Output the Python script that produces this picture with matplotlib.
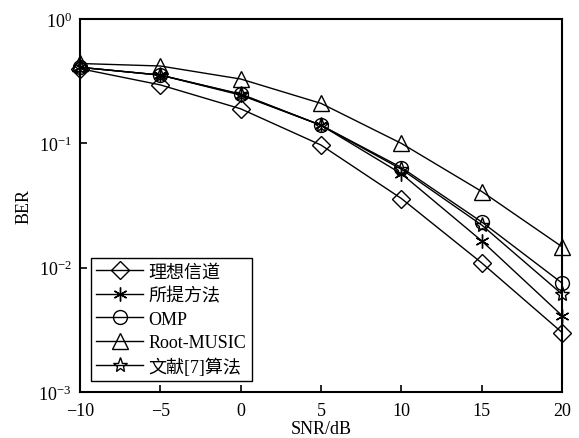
import matplotlib
matplotlib.use("Agg")
import matplotlib.pyplot as plt

plt.rcParams['font.family'] = ['Liberation Serif', 'Noto Sans CJK SC']
plt.rcParams['mathtext.fontset'] = 'stix'

snr = [-10, -5, 0, 5, 10, 15, 20]
ber_ideal = [0.40, 0.296, 0.19, 0.097, 0.036, 0.0109, 0.0030]
ber_proposed = [0.41, 0.355, 0.245, 0.14, 0.057, 0.0164, 0.0041]
ber_omp = [0.41, 0.355, 0.25, 0.14, 0.064, 0.0233, 0.0075]
ber_music = [0.44, 0.42, 0.33, 0.21, 0.10, 0.041, 0.0147]
ber_ref7 = [0.41, 0.355, 0.248, 0.14, 0.062, 0.022, 0.0061]

labels = ['理想信道', '所提方法', 'OMP', 'Root-MUSIC', '文献[7]算法']
markers = ['D', (6, 2, 0), 'o', '^', '*']
sizes = [9, 10, 10, 12, 11]

fig = plt.figure(figsize=(5.79, 4.39), dpi=100)
ax = fig.add_axes([0.138, 0.105, 0.833, 0.849])

for y, lab, m, s in zip([ber_ideal, ber_proposed, ber_omp, ber_music, ber_ref7],
                        labels, markers, sizes):
    ax.semilogy(snr, y, color='black', lw=1.0, marker=m, ms=s,
                mfc='none', mec='black', mew=1.0, label=lab, clip_on=False)

ax.set_xlim(-10, 20)
ax.set_ylim(1e-3, 1)
ax.set_xticks([-10, -5, 0, 5, 10, 15, 20])
ax.set_xticklabels(['\u221210', '\u22125', '0', '5', '10', '15', '20'])
ax.minorticks_off()
ax.tick_params(direction='in', length=5, width=1.2, labelsize=13)
ax.tick_params(axis='x', pad=7)
ax.tick_params(axis='y', pad=6)
for sp in ax.spines.values():
    sp.set_linewidth(1.5)

ax.set_xlabel('SNR/dB', fontsize=13, labelpad=1)
ax.set_ylabel('BER', fontsize=13)

leg = ax.legend(loc='lower left', fontsize=13, fancybox=False, edgecolor='black',
                framealpha=1, borderpad=0.3, labelspacing=0.35, handlelength=2.6,
                handletextpad=0.3, borderaxespad=0.6)
leg.get_frame().set_linewidth(1.0)

fig.savefig('out.png', dpi=100)
